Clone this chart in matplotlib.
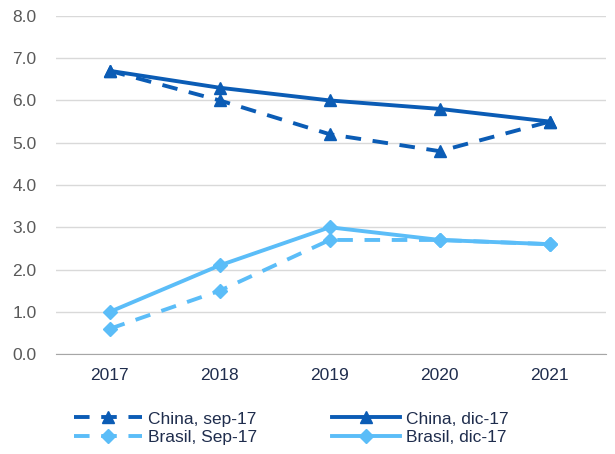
import numpy as np
import matplotlib
matplotlib.use('Agg')
import matplotlib.pyplot as plt

# Datos
anios = ['2017', '2018', '2019', '2020', '2021']
china_sep = [6.7, 6.0, 5.2, 4.8, 5.5]
china_dic = [6.7, 6.3, 6.0, 5.8, 5.5]
brasil_sep = [0.6, 1.5, 2.7, 2.7, 2.6]
brasil_dic = [1.0, 2.1, 3.0, 2.7, 2.6]

azul = '#0B5CB5'
celeste = '#5BBDF8'

plt.rcParams['font.family'] = ['Liberation Sans', 'DejaVu Sans']

fig = plt.figure(figsize=(6.15, 4.54), dpi=100)
ax = fig.add_axes([0.091, 0.22, 0.894, 0.745])

x = np.arange(len(anios))
ax.plot(x, china_sep, color=azul, lw=2.8, ls=(0, (4, 3)), marker='^', ms=9, label='China, sep-17')
ax.plot(x, china_dic, color=azul, lw=2.8, marker='^', ms=9, label='China, dic-17')
ax.plot(x, brasil_sep, color=celeste, lw=2.8, ls=(0, (4, 3)), marker='D', ms=7, label='Brasil, Sep-17')
ax.plot(x, brasil_dic, color=celeste, lw=2.8, marker='D', ms=7, label='Brasil, dic-17')

ax.set_xlim(-0.49, 4.51)
ax.set_ylim(0, 8)
ax.set_yticks(np.arange(0, 9, 1))
ax.set_yticklabels(['%.1f' % v for v in np.arange(0, 9, 1)])
ax.set_xticks(x)
ax.set_xticklabels(anios)
ax.grid(axis='y', color='#D9D9D9', lw=1)
ax.set_axisbelow(True)
for s in ['top', 'right', 'left']:
    ax.spines[s].set_visible(False)
ax.spines['bottom'].set_color('#A6A6A6')
ax.tick_params(axis='y', length=0, labelsize=12.5, colors='#595959', pad=14)
ax.tick_params(axis='x', length=0, labelsize=12.5, colors='#1F2D4D', pad=10)

h, l = ax.get_legend_handles_labels()
order = [0, 2, 1, 3]
fig.legend([h[i] for i in order], [l[i] for i in order], ncol=2, loc='lower left',
           bbox_to_anchor=(0.095, -0.015), frameon=False, fontsize=12.5, handlelength=3.9,
           columnspacing=4.35, labelspacing=0.2, handletextpad=0.35, labelcolor='#1F2D4D')

fig.savefig('out.png')
